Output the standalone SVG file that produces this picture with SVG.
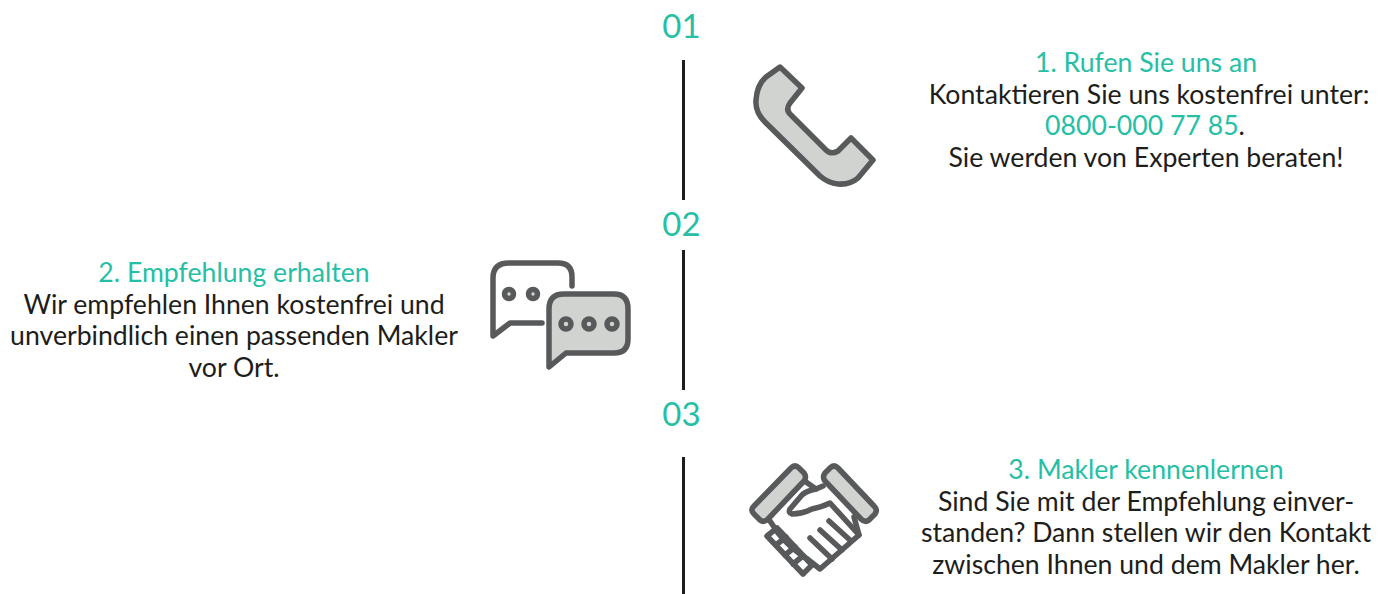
<svg xmlns="http://www.w3.org/2000/svg" width="1388" height="594" viewBox="0 0 1388 594">
<style>
text{font-family:Lato,"Noto Sans",sans-serif;font-size:26.650px;fill:#1d1d1b;text-anchor:middle}
.t{fill:#26bfa5}
.n{font-size:33px}
.ln{stroke:#1d1d1b;stroke-width:3;fill:none}
.i{stroke:#58595b;stroke-width:5.500;fill:none;stroke-linejoin:round;stroke-linecap:round}
.f{fill:#d1d3d1}
.d{stroke:#58595b;stroke-width:5.500;fill:#d1d3d1}
</style>
<g id="connectors">
<path class="ln" d="M683.500 60V200M683.500 250V390M683.500 457V594"/>
</g>
<g id="step1">
<text class="t n" x="681.500" y="38">01</text>
<path class="i f" d="M780 67L802 88L790 103Q785 110 791 115L826 150Q831 155 838 151L851 138L873 160L858 178Q850 185 838 184Q828 183 820 176L765 122Q755 112 756 100Q757 85 766 77Z"/>
<text x="1149" y="72"><tspan class="t" x="1146">1. Rufen Sie uns an</tspan><tspan x="1149" dy="31.700">Kontaktieren Sie uns kostenfrei unter:</tspan><tspan class="t" x="1145" dy="31.700">0800-000 77 85</tspan><tspan>.</tspan><tspan x="1146" dy="31.700">Sie werden von Experten beraten!</tspan></text>
</g>
<g id="step2">
<text class="t n" x="681.500" y="236">02</text>
<path class="i" d="M572 286V277Q572 263 558 263H509Q493 263 493 278V336L510 323H542"/>
<circle class="d" cx="509" cy="294" r="4.500"/>
<circle class="d" cx="533" cy="294" r="4.500"/>
<path class="i f" d="M564 294H614Q628 294 628 309V339Q628 353 614 353H566L549 367V309Q549 294 564 294Z"/>
<circle class="d" cx="566" cy="324" r="5"/>
<circle class="d" cx="589" cy="324" r="5"/>
<circle class="d" cx="612" cy="324" r="5"/>
<text x="234" y="282"><tspan class="t">2. Empfehlung erhalten</tspan><tspan x="234" dy="31.700">Wir empfehlen Ihnen kostenfrei und</tspan><tspan x="234" dy="31.700">unverbindlich einen passenden Makler</tspan><tspan x="234" dy="31.700">vor Ort.</tspan></text>
</g>
<g id="step3">
<text class="t n" x="681.500" y="426">03</text>
<g class="i">
<path d="M770 521L778 533Q790 548 806 558L820 569L859 535L854 517"/>
<path d="M806 482L816 489L823 486"/>
<path d="M767 536L777 528L812 565L803 574Z"/>
<path d="M776 545L786 537M785 555L795 547M793 564L803 556"/>
<path d="M816 489Q806 491 802 495L790 509Q788 513 792 514Q802 514 812 509Q822 507 830 503L859 535"/>
<path d="M810 538L832 559M820 530L842 550M829 521L851 541"/>
<path class="f" d="M791 468Q795 464 799 468L804 473Q807 477 804 481L768 519Q764 523 760 520L754 514Q750 510 754 506Z"/>
<path class="f" d="M830 468Q834 464 838 468L874 506Q878 510 875 514L869 520Q865 523 861 519L825 481Q822 477 825 473Z"/>
</g>
<text x="1146" y="479"><tspan class="t">3. Makler kennenlernen</tspan><tspan x="1146" dy="31.700">Sind Sie mit der Empfehlung einver-</tspan><tspan x="1146" dy="31.700">standen? Dann stellen wir den Kontakt</tspan><tspan x="1146" dy="31.700">zwischen Ihnen und dem Makler her.</tspan></text>
</g>
</svg>
